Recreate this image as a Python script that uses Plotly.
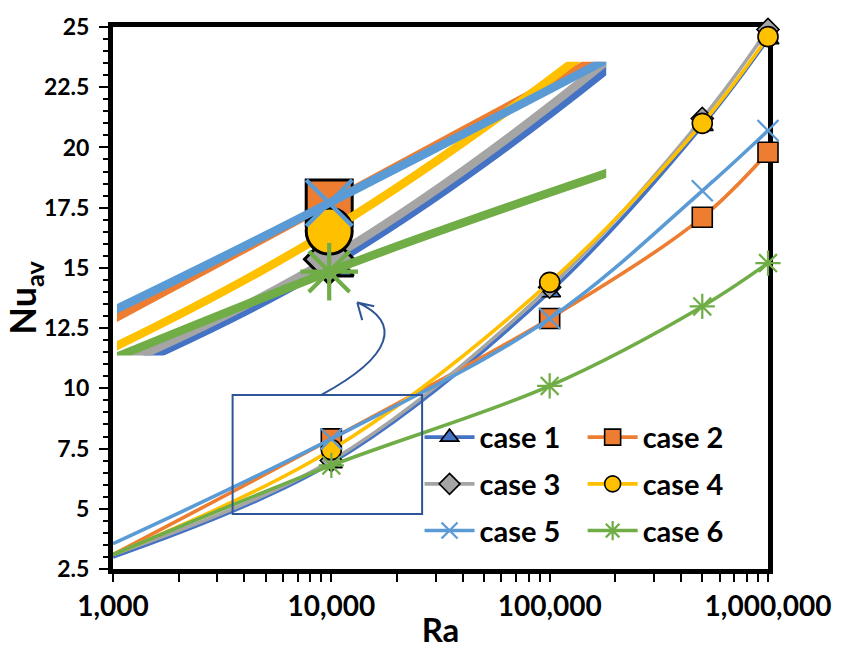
import plotly.graph_objects as go

# Average Nusselt number against Rayleigh number for six cases
ra = [1000, 10000, 100000, 500000, 1000000]
case1 = [3.0, 6.9, 14.0, 20.9, 24.5]
case2 = [3.1, 7.9, 12.9, 17.1, 19.8]
case3 = [3.1, 7.0, 14.2, 21.2, 24.9]
case4 = [3.1, 7.45, 14.4, 21.0, 24.6]
case5 = [3.55, 7.9, 12.9, 18.2, 20.7]
case6 = [3.1, 6.8, 10.1, 13.4, 15.2]

names = ["case 1", "case 2", "case 3", "case 4", "case 5", "case 6"]
values = [case1, case2, case3, case4, case5, case6]
colors = ["#4472C4", "#ED7D31", "#A5A5A5", "#FFC000", "#5B9BD5", "#70AD47"]
symbols = ["triangle-up", "square", "diamond", "circle", "x-thin", "asterisk-open"]
main_sizes = [19, 20, 17, 20, 21, 21]
zoom_sizes = [42, 46, 38, 46, 46, 48]

x_tickvals = [1000, 10000, 100000, 1000000]
x_ticktext = ["1,000", "10,000", "100,000", "1,000,000"]

FONT = "Lato"

fig = go.Figure()


def marker_style(i, size, lw):
    if symbols[i] in ("x-thin", "asterisk-open"):
        return dict(symbol=symbols[i], size=size, color=colors[i],
                    line=dict(color=colors[i], width=lw * 1.4))
    return dict(symbol=symbols[i], size=size, color=colors[i],
                line=dict(color="black", width=lw))


# main curves
for i in range(6):
    fig.add_trace(go.Scatter(
        x=ra, y=values[i], name=names[i], mode="lines+markers",
        line=dict(color=colors[i], width=3.6, shape="spline"),
        marker=marker_style(i, main_sizes[i], 1.6),
        cliponaxis=False,
        legend="legend" if i % 2 == 0 else "legend2",
        legendgroup=names[i],
    ))

# magnified view around Ra = 10,000
for i in range(6):
    fig.add_trace(go.Scatter(
        x=ra, y=values[i], mode="lines+markers", showlegend=False,
        line=dict(color=colors[i], width=8.5, shape="spline"),
        marker=marker_style(i, zoom_sizes[i], 3),
        xaxis="x2", yaxis="y2", cliponaxis=True, hoverinfo="skip",
    ))


def px(xp):
    return (xp - 113) / 657


def py(yp):
    return (569 - yp) / 551


# curved arrow from the box to the magnified view
arrow_path = (
    f"M {px(322):.4f},{py(392):.4f} "
    f"C {px(395):.4f},{py(352):.4f} {px(402):.4f},{py(318):.4f} {px(358):.4f},{py(298):.4f} "
    f"M {px(358):.4f},{py(298):.4f} L {px(375):.4f},{py(302):.4f} "
    f"M {px(358):.4f},{py(298):.4f} L {px(363):.4f},{py(316):.4f}"
)

legend_font = dict(size=29, family=FONT, weight="bold")

fig.update_layout(
    width=843, height=659,
    margin=dict(l=113, r=73, t=18, b=90),
    paper_bgcolor="white",
    plot_bgcolor="rgba(0,0,0,0)",
    font=dict(family=FONT, color="black"),
    xaxis=dict(
        type="log", range=[3, 6],
        tickvals=x_tickvals, ticktext=x_ticktext,
        tickfont=dict(size=28, family=FONT, weight="bold"),
        ticks="outside", ticklen=8, tickwidth=2, tickcolor="black",
        minor=dict(ticks="outside", ticklen=8, tickwidth=2, tickcolor="black", dtick="D1"),
        showline=True, linecolor="black", linewidth=5, mirror=True,
        showgrid=False, zeroline=False, layer="below traces",
        title=dict(text="<b>Ra</b>", font=dict(size=33, family=FONT), standoff=0),
    ),
    yaxis=dict(
        range=[2.5, 25], dtick=2.5, tick0=2.5,
        tickfont=dict(size=23, family=FONT, weight="bold"),
        ticks="outside", ticklen=9, tickwidth=2, tickcolor="black",
        ticklabelstandoff=5,
        minor=dict(ticks="outside", ticklen=5, tickwidth=2, tickcolor="black", dtick=0.5),
        showline=True, linecolor="black", linewidth=5, mirror=True,
        showgrid=False, zeroline=False, layer="below traces",
        title=dict(text="<b>Nu<sub>av</sub></b>", font=dict(size=36, family=FONT), standoff=0),
    ),
    xaxis2=dict(type="log", range=[3.623, 4.492], domain=[0.006, 0.753],
                anchor="y2", visible=False, showgrid=False),
    yaxis2=dict(range=[5.46, 10.16], domain=[0.394, 0.936],
                anchor="x2", visible=False, showgrid=False),
    legend=dict(x=0.468, y=0.29, xanchor="left", yanchor="top",
                bgcolor="rgba(0,0,0,0)", font=legend_font,
                tracegroupgap=6, itemwidth=50),
    legend2=dict(x=0.717, y=0.29, xanchor="left", yanchor="top",
                 bgcolor="rgba(0,0,0,0)", font=legend_font,
                 tracegroupgap=6, itemwidth=50),
    shapes=[
        dict(type="rect", xref="x", yref="y", x0=3530, x1=26050, y0=4.78, y1=9.72,
             line=dict(color="#2F5597", width=2), fillcolor="rgba(0,0,0,0)"),
        dict(type="path", xref="paper", yref="paper", path=arrow_path,
             line=dict(color="#2F5597", width=2)),
    ],
)

fig.write_html("out.html")
